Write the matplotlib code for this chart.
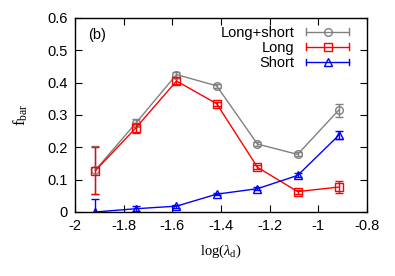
import matplotlib
matplotlib.use("Agg")
import matplotlib.pyplot as plt
from matplotlib.lines import Line2D
from matplotlib.legend_handler import HandlerBase
from matplotlib.container import ErrorbarContainer

plt.rcParams['font.family'] = ['Liberation Sans', 'DejaVu Sans']
plt.rcParams['mathtext.fontset'] = 'custom'
plt.rcParams['mathtext.rm'] = 'Liberation Serif'
plt.rcParams['mathtext.it'] = 'Liberation Serif:italic'

log_lambda = [-1.916, -1.75, -1.583, -1.418, -1.25, -1.085, -0.916]

both_vals = [0.13, 0.275, 0.425, 0.39, 0.21, 0.178, 0.315]
both_err = [0.073, 0.012, 0.008, 0.006, 0.006, 0.006, 0.02]

long_vals = [0.128, 0.26, 0.405, 0.335, 0.138, 0.063, 0.077]
long_err = [0.073, 0.015, 0.008, 0.006, 0.006, 0.006, 0.018]

short_vals = [0.0, 0.01, 0.018, 0.055, 0.072, 0.113, 0.237]
short_err = [0.04, 0.008, 0.005, 0.004, 0.004, 0.006, 0.012]

labels = ["Long+short", "Long", "Short"]
colors = ["#808080", "#ff0000", "#0000ff"]
markers = ["o", "s", "^"]

x_ticks = [-2, -1.8, -1.6, -1.4, -1.2, -1, -0.8]
x_ticklabels = ["-2", "-1.8", "-1.6", "-1.4", "-1.2", "-1", "-0.8"]
y_ticks = [0, 0.1, 0.2, 0.3, 0.4, 0.5, 0.6]
y_ticklabels = ["0", "0.1", "0.2", "0.3", "0.4", "0.5", "0.6"]


class HandlerEB(HandlerBase):
    def create_artists(self, legend, orig_handle, xdescent, ydescent,
                       width, height, fontsize, trans):
        ln = orig_handle.lines[0]
        c = ln.get_color()
        m = ln.get_marker()
        y = height / 2 - ydescent
        x0 = -xdescent
        x1 = width - xdescent
        h = height * 0.32
        artists = [
            Line2D([x0, x1], [y, y], color=c, lw=1),
            Line2D([x0, x0], [y - h, y + h], color=c, lw=1),
            Line2D([x1, x1], [y - h, y + h], color=c, lw=1),
            Line2D([(x0 + x1) / 2], [y], color=c, marker=m, ms=5.5,
                   mfc='none', mec=c, mew=1, ls='none'),
        ]
        for a in artists:
            a.set_transform(trans)
        return artists


fig = plt.figure(figsize=(3.95, 2.76), dpi=100)
ax = fig.add_axes([0.19, 0.232, 0.739, 0.703])

series = [(both_vals, both_err), (long_vals, long_err), (short_vals, short_err)]
handles = []
for (vals, errs), lab, col, mk in zip(series, labels, colors, markers):
    eb = ax.errorbar(log_lambda, vals, yerr=errs, color=col, marker=mk,
                     ms=5.5, mfc='none', mec=col, mew=1, lw=1, elinewidth=1,
                     capsize=3, capthick=1, label=lab)
    handles.append(eb)

ax.set_xlim(-2, -0.8)
ax.set_ylim(0, 0.6)
ax.set_xticks(x_ticks)
ax.set_xticklabels(x_ticklabels)
ax.set_yticks(y_ticks)
ax.set_yticklabels(y_ticklabels)
ax.tick_params(direction='in', top=True, right=True, labelsize=10.5,
               length=5, width=0.8, pad=5)
for s in ax.spines.values():
    s.set_linewidth(1)

ax.set_xlabel(r"log($\lambda_{\mathrm{d}}$)", family='Liberation Serif',
              fontsize=10.5, labelpad=7)
ax.set_ylabel(r"f$_{\mathrm{bar}}$", family='Liberation Serif', fontsize=12,
              rotation=90, labelpad=13)

ax.text(0.045, 0.91, "(b)", transform=ax.transAxes, fontsize=10.5,
        va='center', ha='left')

ax.legend(handles=handles, labels=labels, loc='upper right',
          bbox_to_anchor=(0.94, 0.96),
          markerfirst=False, frameon=False, fontsize=10.5,
          handler_map={ErrorbarContainer: HandlerEB()},
          handlelength=3.0, handletextpad=0.75, labelspacing=0.08,
          borderaxespad=0, borderpad=0)

fig.savefig("out.png", dpi=100)
